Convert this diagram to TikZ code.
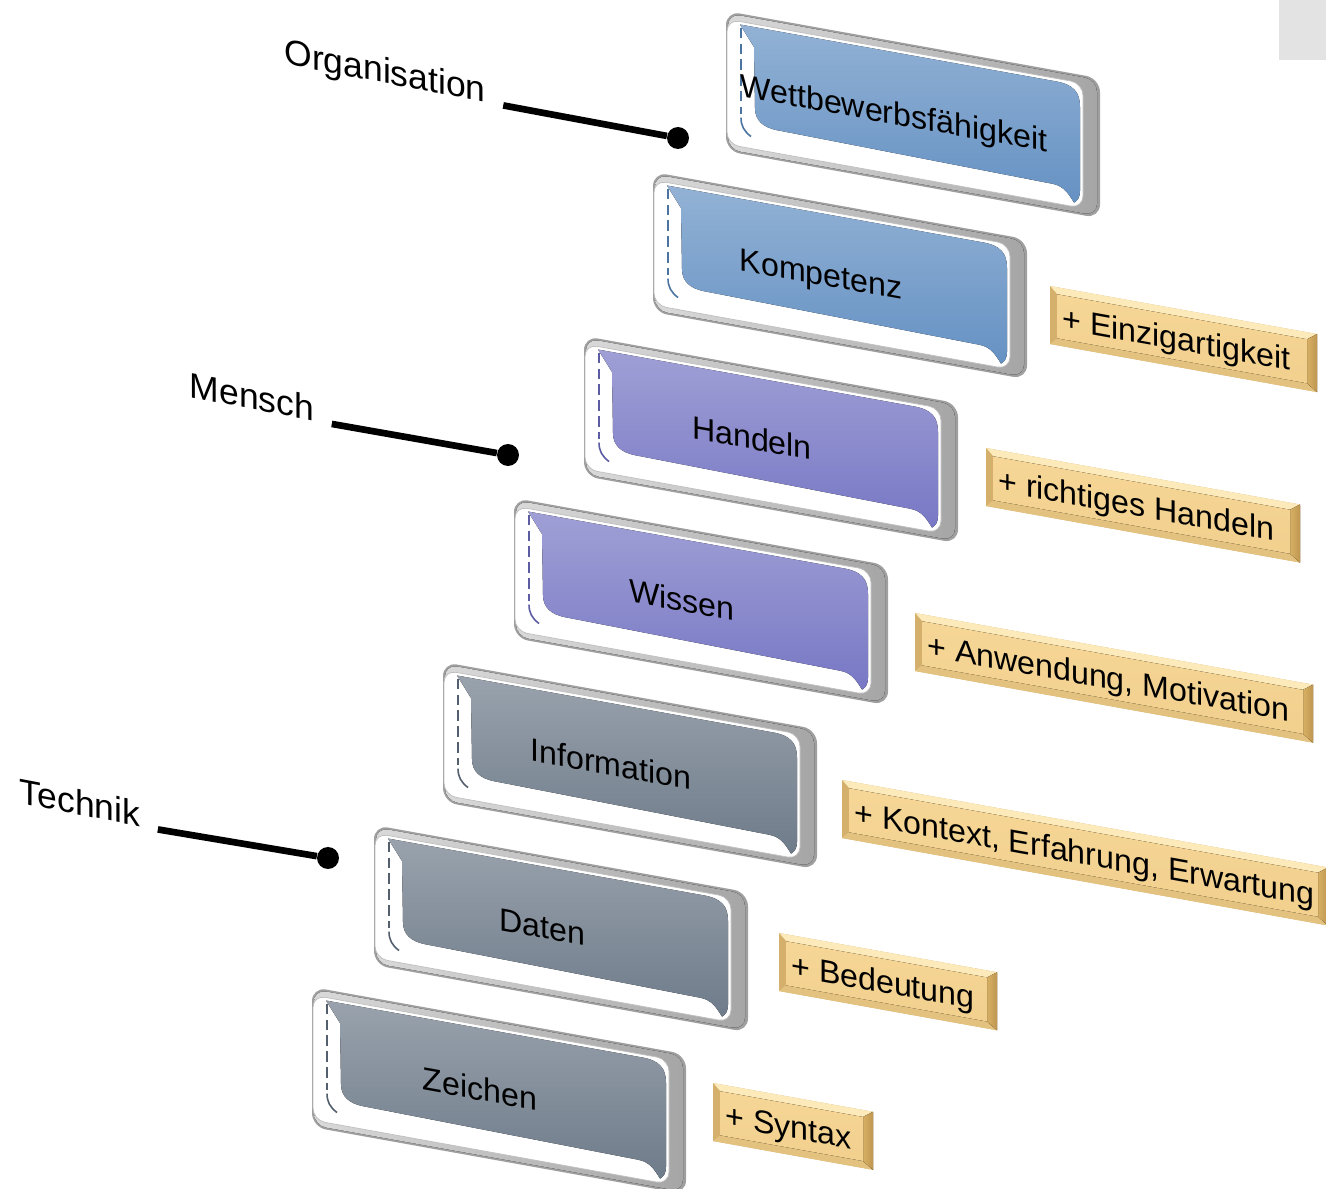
\documentclass[tikz,border=0pt]{standalone}
\usepackage{fontspec}
\setmainfont{Liberation Sans}
\usepackage{tikz}

\definecolor{stufeblau}{RGB}{88,136,190}
\definecolor{stufelila}{RGB}{108,108,192}
\definecolor{stufegrau}{RGB}{98,112,128}
\definecolor{goldface}{RGB}{246,214,150}
\definecolor{goldhell}{RGB}{252,234,186}
\definecolor{golddunkel}{RGB}{216,176,100}
\definecolor{goldbraun}{RGB}{190,150,80}

\tikzset{
rahmen/.style  = {fill=gray!75, rounded corners=8pt},
rand/.style    = {left color=gray!30, right color=gray!70, rounded corners=7pt},
flaeche/.style = {draw=gray!50, line width=0.4pt, fill=white, rounded corners=7pt},
stufentext/.style = {transform shape, anchor=base, inner sep=0pt, font=\fontsize{18.3}{22}\selectfont},
zusatztext/.style = {transform shape, anchor=base west, inner sep=0pt, font=\fontsize{18.3}{22}\selectfont},
ebene/.style   = {transform shape, anchor=base, inner sep=0pt, font=\fontsize{20.2}{24}\selectfont},
punkt/.style   = {circle, fill=black, inner sep=0pt, minimum size=12.5pt},
stiel/.style   = {line width=3.8pt, shorten <=10pt}
}

% eine Stufe: x, y, Farbe, Name, Text
\newcommand{\stufe}[5]{%
  \begin{scope}[shift={(#1,#2)}, yslant=-0.18]
    \fill[rahmen] (0,0) rectangle (374,140);
    \fill[rand] (2,2) rectangle (371,138);
    \filldraw[flaeche] (1,8) rectangle (357,133);
    \fill[top color=#3!65!white, middle color=#3, bottom color=#3!92!white]
      (14,11) -- (330,11) .. controls (347,11) and (354,17) .. (354,32)
      -- (354,116) .. controls (354,122) and (352,126) .. (348,129)
      .. controls (342,120) and (337,114) .. (326,114)
      -- (52,110) .. controls (37,110) and (29,104) .. (29,92)
      -- (28,31) -- cycle;
    \draw[#3!85!black, line width=0.9pt, dash pattern=on 6pt off 3pt] (15,14) -- (15,100);
    \draw[#3!85!black, line width=0.9pt] (15,104) .. controls (15,112) and (18,117) .. (25,121);
    \node[stufentext] (#4) at (168,83) {#5};
  \end{scope}}

% ein Zusatz: x, y, Breite, Name, Text
\newcommand{\zusatz}[5]{%
  \begin{scope}[shift={(#1,#2)}, yslant=-0.18]
    \fill[golddunkel] (0,0) rectangle (#3,58);
    \fill[goldhell] (0,0) -- (#3,0) -- (#3-10,7) -- (7,7) -- cycle;
    \fill[goldbraun!60!goldface] (0,0) -- (7,7) -- (7,51) -- (0,58) -- cycle;
    \fill[golddunkel!70!goldhell] (0,58) -- (7,51) -- (#3-10,51) -- (#3,58) -- cycle;
    \fill[left color=golddunkel, right color=goldbraun] (#3,0) -- (#3-10,7) -- (#3-10,51) -- (#3,58) -- cycle;
    \fill[top color=goldface, bottom color=goldface!85!golddunkel] (7,7) rectangle (#3-10,51);
    \node[zusatztext] (#4) at (12,41) {#5};
  \end{scope}}

\begin{document}
\begin{tikzpicture}[x=0.02cm, y=-0.02cm]
    \useasboundingbox (0,0) rectangle (1326,1188);
    \fill[gray!22] (1279,0) rectangle (1326,60);

    % We start with the steps
    \stufe{726}{11}{stufeblau}{wettbewerb}{Wettbewerbsfähigkeit}
    \stufe{653}{172}{stufeblau}{kompetenz}{Kompetenz}
    \stufe{584}{336}{stufelila}{handeln}{Handeln}
    \stufe{514}{498}{stufelila}{wissen}{Wissen}
    \stufe{443}{662}{stufegrau}{information}{Information}
    \stufe{374}{825}{stufegrau}{daten}{Daten}
    \stufe{312}{987}{stufegrau}{zeichen}{Zeichen}

    % what is added on each step
    \zusatz{1050}{286}{267}{einzig}{+ Einzigartigkeit}
    \zusatz{986}{448}{314}{richtig}{+ richtiges Handeln}
    \zusatz{915}{613}{398}{anwendung}{+ Anwendung, Motivation}
    \zusatz{842}{780}{486}{kontext}{+ Kontext, Erfahrung, Erwartung}
    \zusatz{779}{933}{218}{bedeutung}{+ Bedeutung}
    \zusatz{713}{1083}{160}{syntax}{+ Syntax}

    % levels on the left
    \begin{scope}[shift={(385,83)}, yslant=-0.19]
        \node [ebene] (organisation) at (0,0) {Organisation};
    \end{scope}
    \begin{scope}[shift={(252,409)}, yslant=-0.19]
        \node [ebene] (mensch) at (0,0) {Mensch};
    \end{scope}
    \begin{scope}[shift={(80,815)}, yslant=-0.19]
        \node [ebene] (technik) at (0,0) {Technik};
    \end{scope}
    \node [punkt] (orgpunkt) at (678,138) {};
    \node [punkt] (menschpunkt) at (508,455) {};
    \node [punkt] (technikpunkt) at (328,858) {};

    \draw [stiel] (organisation.base east) -- (orgpunkt);
    \draw [stiel] (mensch.base east) -- (menschpunkt);
    \draw [stiel] (technik.base east) -- (technikpunkt);
\end{tikzpicture}
\end{document}
